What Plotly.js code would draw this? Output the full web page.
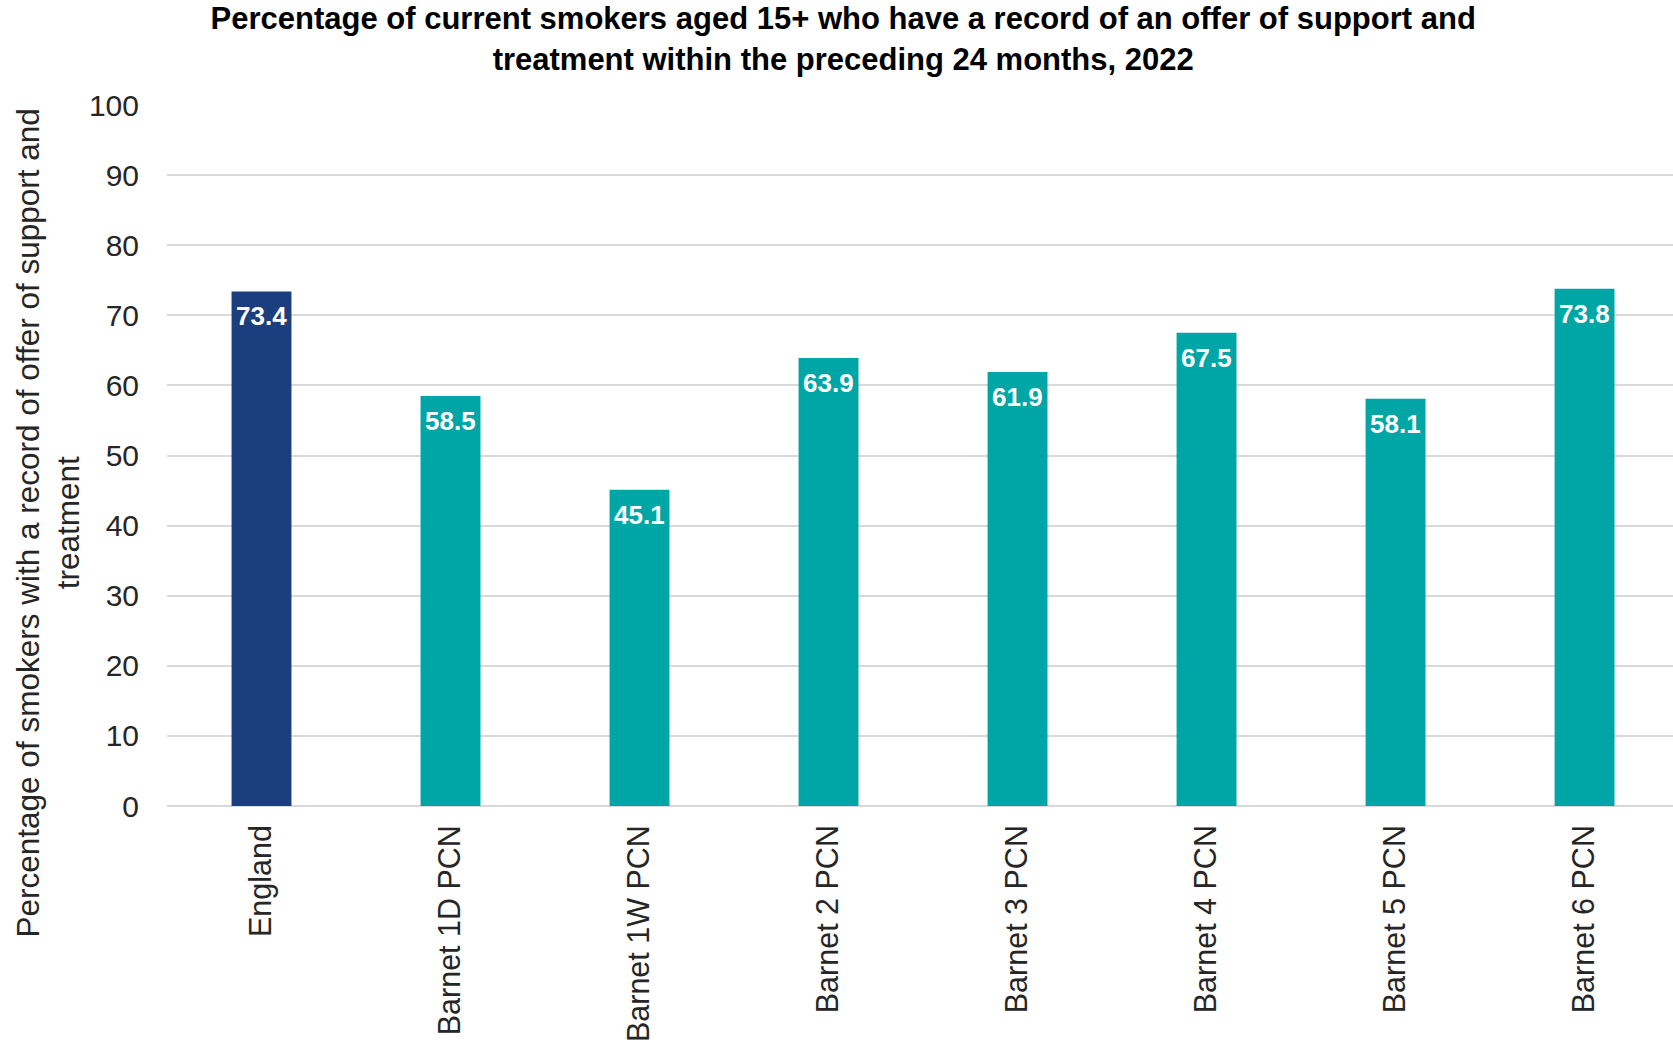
<!DOCTYPE html>
<html>
<head>
<meta charset="utf-8">
<script src="https://cdn.plot.ly/plotly-3.0.1.min.js"></script>
<style>
  html, body { margin: 0; padding: 0; background: #ffffff; }
  #chart { width: 1673px; height: 1047px; }
</style>
</head>
<body>
<div id="chart"></div>
<script>
const categories = ["England", "Barnet 1D PCN", "Barnet 1W PCN", "Barnet 2 PCN", "Barnet 3 PCN", "Barnet 4 PCN", "Barnet 5 PCN", "Barnet 6 PCN"];
const values = [73.4, 58.5, 45.1, 63.9, 61.9, 67.5, 58.1, 73.8];
const yTicks = [0, 10, 20, 30, 40, 50, 60, 70, 80, 90, 100];

const titleText = "Percentage of current smokers aged 15+ who have a record of an offer of support and<br>treatment within the preceding 24 months, 2022";
const yTitleText = "Percentage of smokers with a record of offer of support and<br>treatment";

const FONT = "Liberation Sans, Arial, sans-serif";
const barColors = categories.map((c, i) => i === 0 ? "#1B3F7E" : "#00A6A6");

const trace = {
  type: "bar",
  x: categories,
  y: values,
  marker: { color: barColors, line: { width: 0 } },
  hoverinfo: "x+y",
  showlegend: false
};

const labelAnnotations = categories.map((c, i) => ({
  x: c,
  y: values[i],
  xref: "x",
  yref: "y",
  text: values[i].toFixed(1),
  showarrow: false,
  yanchor: "middle",
  xanchor: "center",
  yshift: -25,
  font: { family: FONT, size: 26, color: "#ffffff", weight: "bold" }
}));

const yTitleAnnotation = {
  xref: "paper",
  yref: "paper",
  x: 0,
  y: 0.403,
  xanchor: "center",
  yanchor: "middle",
  xshift: -119,
  textangle: -90,
  text: yTitleText,
  showarrow: false,
  font: { family: FONT, size: 31.5, color: "#262626" }
};

const layout = {
  width: 1673,
  height: 1047,
  paper_bgcolor: "#ffffff",
  plot_bgcolor: "#ffffff",
  margin: { l: 167, r: 0, t: 105, b: 241, pad: 0 },
  title: {
    text: titleText,
    x: 0.504,
    xref: "container",
    xanchor: "center",
    y: 0.972,
    yref: "container",
    yanchor: "middle",
    font: { family: FONT, size: 31, color: "#000000", weight: "bold" }
  },
  bargap: 0.683,
  xaxis: {
    type: "category",
    range: [-0.5, 7.468],
    tickangle: -90,
    tickfont: { family: FONT, size: 30.5, color: "#262626" },
    showline: false,
    ticks: "",
    ticklabelstandoff: 12,
    showgrid: false,
    zeroline: false,
    fixedrange: true
  },
  yaxis: {
    range: [0, 100],
    tickvals: yTicks,
    ticktext: yTicks.map(String),
    tickfont: { family: FONT, size: 30, color: "#262626" },
    showline: false,
    ticks: "",
    ticklabelstandoff: 27,
    showgrid: true,
    gridcolor: "#d9d9d9",
    gridwidth: 2,
    zeroline: true,
    zerolinecolor: "#d9d9d9",
    zerolinewidth: 2,
    fixedrange: true
  },
  annotations: [yTitleAnnotation].concat(labelAnnotations)
};

Plotly.newPlot("chart", [trace], layout, { displayModeBar: false, staticPlot: true });
</script>
</body>
</html>
